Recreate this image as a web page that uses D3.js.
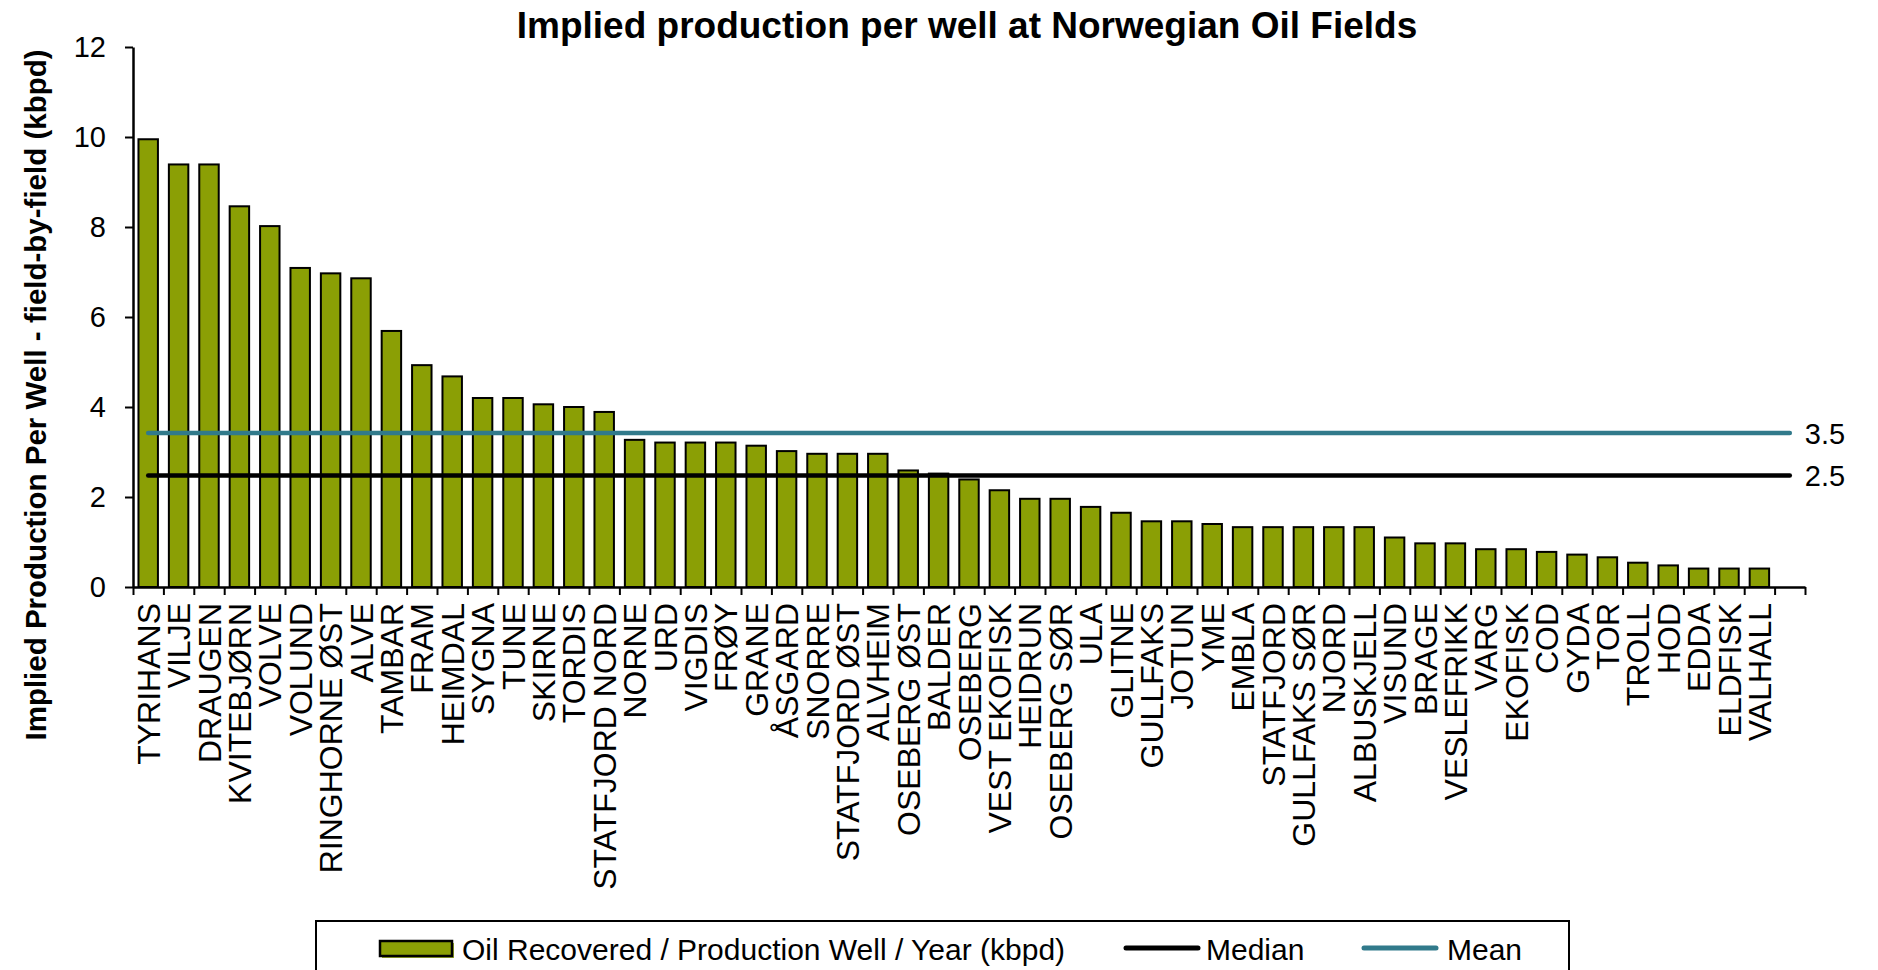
<!DOCTYPE html>
<html>
<head>
<meta charset="utf-8">
<script src="https://cdnjs.cloudflare.com/ajax/libs/d3/7.8.5/d3.min.js"></script>
<style>
   body { margin: 0; background: #fff; }
   text { font-family: "Liberation Sans", Arial, sans-serif; fill: #000; }
</style>
</head>
<body>
<div id="chart"></div>
<script>
var fields = [
      "TYRIHANS", "VILJE", "DRAUGEN", "KVITEBJØRN", "VOLVE", "VOLUND", "RINGHORNE ØST", "ALVE",
      "TAMBAR", "FRAM", "HEIMDAL", "SYGNA", "TUNE", "SKIRNE", "TORDIS", "STATFJORD NORD",
      "NORNE", "URD", "VIGDIS", "FRØY", "GRANE", "ÅSGARD", "SNORRE", "STATFJORD ØST",
      "ALVHEIM", "OSEBERG ØST", "BALDER", "OSEBERG", "VEST EKOFISK", "HEIDRUN", "OSEBERG SØR", "ULA",
      "GLITNE", "GULLFAKS", "JOTUN", "YME", "EMBLA", "STATFJORD", "GULLFAKS SØR", "NJORD",
      "ALBUSKJELL", "VISUND", "BRAGE", "VESLEFRIKK", "VARG", "EKOFISK", "COD", "GYDA",
      "TOR", "TROLL", "HOD", "EDDA", "ELDFISK", "VALHALL", ""
   ];

var production = [
      9.95, 9.39, 9.39, 8.46, 8.02, 7.09, 6.97, 6.86,
      5.69, 4.93, 4.68, 4.20, 4.20, 4.06, 4.00, 3.89,
      3.27, 3.21, 3.21, 3.21, 3.14, 3.02, 2.96, 2.96,
      2.96, 2.59, 2.52, 2.39, 2.15, 1.96, 1.96, 1.78,
      1.65, 1.46, 1.46, 1.40, 1.33, 1.33, 1.33, 1.33,
      1.33, 1.10, 0.97, 0.97, 0.84, 0.84, 0.78, 0.72,
      0.66, 0.54, 0.48, 0.41, 0.41, 0.41
   ];

var refNames = ["Median", "Mean"];
var refValues = [2.48, 3.42];
var refLabels = ["2.5", "3.5"];

var yTicks = [0, 2, 4, 6, 8, 10, 12];

var seriesName = "Oil Recovered / Production Well / Year (kbpd)";
var titleText = "Implied production per well at Norwegian Oil Fields";
var yTitle = "Implied Production Per Well - field-by-field (kbpd)";

var barColor = "#8b9f05";
var refColors = ["#000000", "#317a8b"];

function drawChart() {
   var width = 1878, height = 970;

   var svg = d3.select("#chart").append("svg")
      .attr("width", width)
      .attr("height", height);

   var x = d3.scaleBand()
      .domain(fields)
      .range([133, 1805])
      .paddingInner(0.36)
      .paddingOuter(0.18);

   var xCenter = function(d) { return x(d) + x.bandwidth() / 2; };

   // boundary ticks like Excel's category axis
   var xEdges = d3.scaleLinear().domain([0, fields.length]).range([133, 1805]);

   var y = d3.scaleLinear().domain([0, 12]).range([587, 47]);

   // title
   svg.append("text")
      .attr("x", 967)
      .attr("y", 38)
      .attr("text-anchor", "middle")
      .style("font-size", "37px")
      .style("font-weight", "bold")
      .text(titleText);

   // y axis title
   svg.append("text")
      .attr("transform", "translate(36,395) rotate(-90)")
      .attr("text-anchor", "middle")
      .attr("dy", "0.35em")
      .style("font-size", "29.5px")
      .style("font-weight", "bold")
      .text(yTitle);

   // bars
   svg.append("g").selectAll("rect")
      .data(production)
      .enter().append("rect")
      .attr("x", function(d, i) { return x(fields[i]); })
      .attr("y", function(d) { return y(d); })
      .attr("width", x.bandwidth())
      .attr("height", function(d) { return y(0) - y(d); })
      .style("fill", barColor)
      .style("stroke", "#000")
      .style("stroke-width", 2);

   // median / mean lines
   var first = fields[0], last = fields[fields.length - 1];
   var refs = svg.append("g").selectAll("g")
      .data(refValues)
      .enter().append("g");

   refs.append("line")
      .attr("x1", xCenter(first))
      .attr("x2", xCenter(last))
      .attr("y1", function(d) { return y(d); })
      .attr("y2", function(d) { return y(d); })
      .style("stroke", function(d, i) { return refColors[i]; })
      .style("stroke-width", 4.5)
      .style("stroke-linecap", "round");

   refs.append("text")
      .attr("x", xCenter(last) + 15)
      .attr("y", function(d) { return y(d); })
      .attr("dy", "0.36em")
      .style("font-size", "29px")
      .text(function(d, i) { return refLabels[i]; });

   // y axis
   var yAxis = svg.append("g")
      .attr("transform", "translate(133,0)")
      .call(d3.axisLeft(y).tickValues(yTicks).tickSize(8).tickSizeOuter(0).tickPadding(19));
   yAxis.select(".domain").style("stroke-width", 2.5);
   yAxis.selectAll(".tick line").style("stroke-width", 2);
   yAxis.selectAll("text")
      .style("font-size", "29px")
      .style("font-family", "'Liberation Sans', Arial, sans-serif")
      .attr("fill", "#000");

   // x axis line and boundary ticks
   var xAxis = svg.append("g")
      .attr("transform", "translate(0,587)")
      .call(d3.axisBottom(xEdges).tickValues(d3.range(fields.length + 1))
         .tickSize(8).tickSizeOuter(0).tickFormat(""));
   xAxis.select(".domain").style("stroke-width", 2.5);
   xAxis.selectAll(".tick line").style("stroke-width", 2);

   // category labels
   var xLabels = svg.append("g")
      .attr("transform", "translate(0,587)")
      .call(d3.axisBottom(x).tickSize(0).tickPadding(0));
   xLabels.select(".domain").remove();
   xLabels.selectAll("text")
      .attr("transform", "translate(0,16) rotate(-90)")
      .attr("x", 0)
      .attr("y", 0)
      .attr("dy", "0.36em")
      .attr("text-anchor", "end")
      .attr("fill", "#000")
      .style("font-size", "32px")
      .style("font-family", "'Liberation Sans', Arial, sans-serif");

   drawLegend(svg);
}

function drawLegend(svg) {
   var lg = svg.append("g").attr("class", "legend");

   lg.append("rect")
      .attr("x", 316)
      .attr("y", 921)
      .attr("width", 1253)
      .attr("height", 80)
      .style("fill", "#fff")
      .style("stroke", "#000")
      .style("stroke-width", 2);

   // bar swatch with a little shadow
   lg.append("rect")
      .attr("x", 382).attr("y", 943)
      .attr("width", 72).attr("height", 15)
      .style("fill", "#9fb02a");
   lg.append("rect")
      .attr("x", 380).attr("y", 941)
      .attr("width", 72).attr("height", 15)
      .style("fill", barColor)
      .style("stroke", "#000")
      .style("stroke-width", 2.5);

   lg.append("text")
      .attr("x", 462).attr("y", 960)
      .style("font-size", "30px")
      .text(seriesName);

   var lineX = [1126, 1364];
   var textX = [1206, 1447];
   refNames.forEach(function(name, i) {
      lg.append("line")
         .attr("x1", lineX[i]).attr("x2", lineX[i] + 72)
         .attr("y1", 948).attr("y2", 948)
         .style("stroke", refColors[i])
         .style("stroke-width", 5)
         .style("stroke-linecap", "round");
      lg.append("text")
         .attr("x", textX[i]).attr("y", 960)
         .style("font-size", "30px")
         .text(name);
   });
}

drawChart();
</script>
</body>
</html>
